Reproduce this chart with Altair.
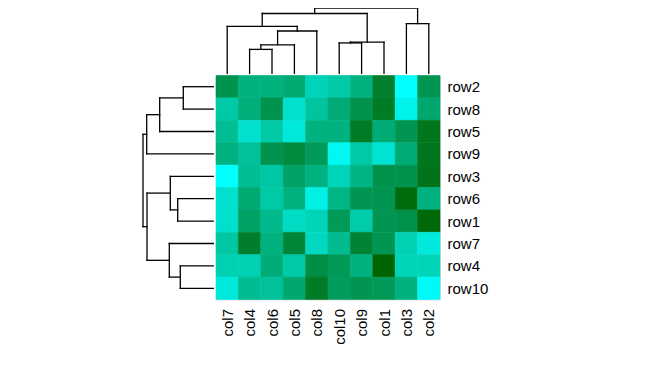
import altair as alt
import pandas as pd

# Display order (after clustering)
col_labels = ["col7", "col4", "col6", "col5", "col8", "col10", "col9", "col1", "col3", "col2"]
row_labels = ["row2", "row8", "row5", "row9", "row3", "row6", "row1", "row7", "row4", "row10"]

# Cell values (0 = darkgreen, 1 = cyan), rows in display order, columns in display order
row2 = [0.30, 0.50, 0.49, 0.45, 0.72, 0.65, 0.50, 0.18, 1.00, 0.32]
row8 = [0.65, 0.48, 0.30, 0.80, 0.62, 0.46, 0.30, 0.15, 0.92, 0.44]
row5 = [0.58, 0.80, 0.65, 0.85, 0.50, 0.50, 0.15, 0.46, 0.32, 0.12]
row9 = [0.50, 0.60, 0.30, 0.25, 0.35, 0.95, 0.65, 0.82, 0.46, 0.12]
row3 = [1.00, 0.58, 0.64, 0.40, 0.50, 0.73, 0.52, 0.30, 0.30, 0.10]
row6 = [0.80, 0.45, 0.65, 0.50, 0.90, 0.53, 0.32, 0.32, 0.05, 0.50]
row1 = [0.80, 0.40, 0.55, 0.77, 0.73, 0.35, 0.67, 0.32, 0.29, 0.04]
row7 = [0.64, 0.17, 0.50, 0.22, 0.75, 0.56, 0.20, 0.32, 0.70, 0.86]
row4 = [0.70, 0.70, 0.47, 0.65, 0.27, 0.35, 0.50, 0.00, 0.73, 0.73]
row10 = [0.85, 0.57, 0.60, 0.44, 0.15, 0.37, 0.32, 0.34, 0.50, 0.97]
values = [row2, row8, row5, row9, row3, row6, row1, row7, row4, row10]

# Dendrogram merges: (left, right, height); "mK" refers to the K-th merge
col_merges = [("col4", "col6", 26), ("m0", "col5", 31), ("m1", "col8", 46),
              ("col7", "m2", 51), ("col10", "col9", 33), ("m4", "col1", 34),
              ("m3", "m5", 65), ("col3", "col2", 54), ("m6", "m7", 71)]
row_merges = [("row2", "row8", 30), ("m0", "row5", 53.6), ("m1", "row9", 66.6),
              ("row6", "row1", 35.6), ("row3", "m3", 43), ("row4", "row10", 33),
              ("row7", "m5", 44), ("m4", "m6", 66.3), ("m2", "m7", 70.3)]


def dendro_segments(order, merges):
    pos = {name: i + 0.5 for i, name in enumerate(order)}
    hgt = {name: 0.0 for name in order}
    segs = []
    for k, (a, b, h) in enumerate(merges):
        pa, pb = pos[a], pos[b]
        segs.append(dict(p=pa, p2=pa, h=hgt[a], h2=h))
        segs.append(dict(p=pb, p2=pb, h=hgt[b], h2=h))
        segs.append(dict(p=pa, p2=pb, h=h, h2=h))
        pos[f"m{k}"] = (pa + pb) / 2
        hgt[f"m{k}"] = h
    return pd.DataFrame(segs)


cells = []
for r, rname in enumerate(row_labels):
    for c, cname in enumerate(col_labels):
        cells.append(dict(r0=r, r1=r + 1, c0=c, c1=c + 1, row=rname, col=cname, v=values[r][c]))
cells = pd.DataFrame(cells)

W = 224
H = 224
pos_x = alt.Scale(domain=[0, 10], range=[0, W])
pos_y = alt.Scale(domain=[0, 10], range=[0, H])
color_scale = alt.Scale(domain=[0, 1], range=["#006400", "#00FFFF"], interpolate="rgb")

col_expr = "[" + ",".join(f"'{s}'" for s in col_labels) + "][floor(datum.value)]"
row_expr = "[" + ",".join(f"'{s}'" for s in row_labels) + "][floor(datum.value)]"
centers = [i + 0.5 for i in range(10)]

heat = alt.Chart(cells).mark_rect(strokeWidth=0.6).encode(
    x=alt.X("c0:Q", scale=pos_x, axis=alt.Axis(
        orient="bottom", values=centers, labelExpr=col_expr, ticks=False, domain=False,
        grid=False, title=None, labelAngle=-90, labelAlign="right", labelBaseline="middle",
        labelPadding=9, labelFont="Liberation Sans", labelFontSize=15, labelColor="black",
        labelOverlap=False)),
    x2="c1:Q",
    y=alt.Y("r0:Q", scale=pos_y, axis=alt.Axis(
        orient="right", values=centers, labelExpr=row_expr, ticks=False, domain=False,
        grid=False, title=None, labelAlign="left", labelBaseline="middle",
        labelPadding=7, labelFont="Liberation Sans", labelFontSize=15, labelColor="black",
        labelOverlap=False)),
    y2="r1:Q",
    color=alt.Color("v:Q", scale=color_scale, legend=None),
    stroke=alt.Stroke("v:Q", scale=color_scale, legend=None),
)

top_df = dendro_segments(col_labels, col_merges)
top = alt.Chart(top_df).mark_rule(color="black", strokeWidth=1.3, strokeCap="square").encode(
    x=alt.X("p:Q", scale=pos_x, axis=None),
    x2="p2:Q",
    y=alt.Y("h:Q", scale=alt.Scale(domain=[0, 71], range=[-2.2, -67.5]), axis=None),
    y2="h2:Q",
)

left_df = dendro_segments(row_labels, row_merges)
left = alt.Chart(left_df).mark_rule(color="black", strokeWidth=1.3, strokeCap="square").encode(
    y=alt.Y("p:Q", scale=pos_y, axis=None),
    y2="p2:Q",
    x=alt.X("h:Q", scale=alt.Scale(domain=[0, 70.3], range=[-2.7, -73]), axis=None),
    x2="h2:Q",
)

chart = alt.layer(heat, top, left).resolve_scale(
    x="independent", y="independent", color="independent", stroke="independent"
).properties(
    width=W, height=H,
    autosize=alt.AutoSizeParams(type="none"),
    padding={"left": 208, "top": 67.5, "right": 213, "bottom": 72.5},
).configure_view(stroke=None).configure(background="white")

chart.save("out.html", embed_options={"renderer": "svg", "actions": False})
